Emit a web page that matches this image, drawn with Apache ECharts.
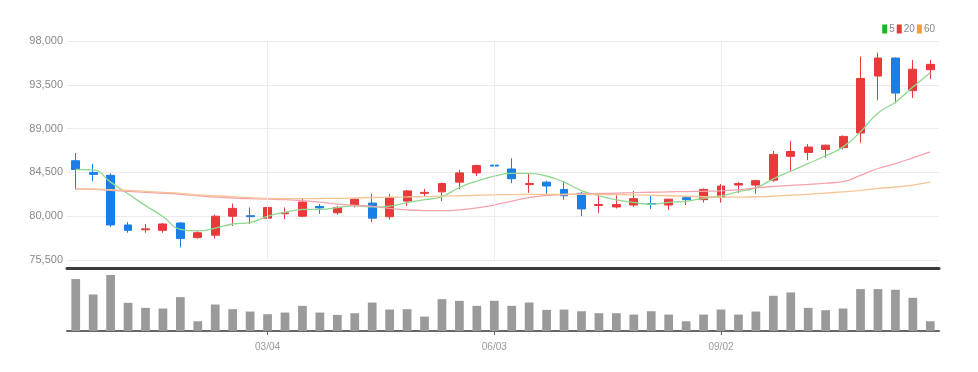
<!DOCTYPE html>
<html>
<head>
<meta charset="utf-8">
<script src="https://cdn.jsdelivr.net/npm/echarts@6/dist/echarts.min.js"></script>
<style>
html,body{margin:0;padding:0;background:#fff;}
#chart{width:978px;height:372px;}
</style>
</head>
<body>
<div id="chart"></div>
<script>
// Weekly categories
const categories = ['12/18','12/25','01/01','01/08','01/15','01/22','01/29','02/05','02/12','02/19',
  '02/26','03/04','03/11','03/18','03/25','04/01','04/08','04/15','04/22','04/29',
  '05/06','05/13','05/20','05/27','06/03','06/10','06/17','06/24','07/01','07/08',
  '07/15','07/22','07/29','08/05','08/12','08/19','08/26','09/02','09/09','09/16',
  '09/23','09/30','10/07','10/14','10/21','10/28','11/04','11/11','11/18','11/25'];
const tickLabels = ['03/04','06/03','09/02'];

const opens = [85700,84500,84200,79100,78600,78550,79300,77800,78050,80000,
  80050,79800,80250,80000,81000,80350,81150,81350,79950,81550,
  82350,82500,83500,84450,85250,84850,83250,83500,82750,82350,
  81100,80950,81150,81300,81150,81900,81700,81950,83200,83200,
  83700,86150,86550,86850,87050,88550,94400,96250,92900,95050];
const closes = [84800,84300,79100,78550,78700,79200,77700,78300,80000,80800,
  79950,80900,80350,81450,80850,80900,81750,79800,81900,82600,
  82450,83350,84450,85200,85150,83850,83350,83100,82100,80750,
  81200,81200,81800,81200,81750,81700,82750,83100,83350,83650,
  86350,86650,87100,87300,88200,94150,96250,92650,95100,95600];
const lows = [82750,83600,78900,78300,78300,78300,76800,77700,77700,79000,
  79200,79050,79700,79900,80250,80150,80900,79400,79650,81050,
  82000,81550,82750,84150,83600,83400,82400,82100,81700,80000,
  80350,80800,80950,80750,80650,81150,81400,81400,82400,82300,
  83550,84600,85750,86000,86850,87550,91900,91600,92150,94100];
const highs = [86500,85400,84400,79400,79200,79300,79400,78450,80150,81300,
  80900,81100,80900,81800,81250,81050,81800,82300,82300,82700,
  82800,83450,84750,85300,85300,85950,84350,83650,83600,82500,
  82100,82150,82600,82100,81800,82000,82850,83300,83500,83750,
  86700,87750,87400,87350,88300,96400,96800,96300,96050,96050];

const ma5 = [84800,84750,83500,82300,81090,79970,78650,78490,78780,79200,
  79350,79990,80400,80690,80700,80890,81060,80950,81040,81390,
  81700,82020,82950,83610,84120,84400,84400,84130,83510,82630,
  82100,81670,81410,81230,81430,81530,81840,82100,82530,82910,
  83840,84620,85420,86210,87120,88680,90600,91710,93270,94750];
const ma20 = [82800,82750,82650,82550,82450,82350,82250,82100,81950,81850,
  81800,81750,81700,81600,81450,81250,81120,81000,80800,80650,
  80580,80570,80650,80850,81150,81550,81900,82120,82230,82300,
  82330,82380,82420,82460,82500,82530,82560,82600,82720,82900,
  83050,83160,83270,83400,83550,84200,84900,85400,86000,86600];
const ma60 = [82800,82780,82720,82650,82550,82450,82350,82200,82100,82000,
  81900,81830,81800,81800,81820,81830,81870,81920,81950,81980,
  82020,82060,82100,82150,82200,82220,82240,82250,82250,82240,
  82230,82220,82200,82150,82100,82050,82000,81950,81950,82000,
  82050,82150,82250,82380,82500,82650,82850,83000,83200,83500];

const volumes = [155,109,167,84,69,67,101,29,79,65,
  58,50,55,75,55,48,53,85,64,65,
  43,95,90,75,90,75,85,63,64,59,
  53,53,49,59,49,29,49,64,49,58,
  105,115,69,62,67,125,125,123,99,29];

const yTicks = {min: 75500, max: 98000, interval: 4500};

const ohlc = opens.map((o, i) => [o, closes[i], lows[i], highs[i]]);
const FONT = '"Liberation Sans Narrow", "Liberation Sans", sans-serif';
const showTick = (idx, val) => tickLabels.indexOf(val) >= 0;

const chart = echarts.init(document.getElementById('chart'), null, {renderer: 'canvas'});
chart.setOption({
  animation: false,
  backgroundColor: '#fff',
  legend: {
    right: 38, top: 19,
    icon: 'rect', itemWidth: 5, itemHeight: 9, itemGap: 2,
    textStyle: {color: '#888', fontSize: 10, fontFamily: FONT, padding: [0, 0, 0, -3]},
    data: [
      {name: '5', itemStyle: {color: '#1fb51f'}},
      {name: '20', itemStyle: {color: '#e83a3a'}},
      {name: '60', itemStyle: {color: '#f0a035'}}
    ]
  },
  grid: [
    {left: 67, right: 39, top: 41, height: 219},
    {left: 67, right: 39, top: 274, height: 57}
  ],
  xAxis: [
    {
      type: 'category', gridIndex: 0, data: categories, boundaryGap: true,
      offset: 8,
      axisLine: {show: true, lineStyle: {color: '#3c3c3c', width: 3}},
      axisTick: {show: false}, axisLabel: {show: false}, splitLine: {show: false}
    },
    {
      type: 'category', gridIndex: 1, data: categories, boundaryGap: true,
      axisLine: {show: true, lineStyle: {color: '#666', width: 2}},
      axisTick: {show: true, alignWithLabel: true, interval: showTick, length: 4, lineStyle: {color: '#666'}},
      axisLabel: {show: true, interval: showTick, color: '#999', fontSize: 10, fontFamily: FONT, margin: 11},
      splitLine: {show: false}
    }
  ],
  yAxis: [
    {
      type: 'value', gridIndex: 0, min: yTicks.min, max: yTicks.max, interval: yTicks.interval,
      axisLine: {show: false}, axisTick: {show: false},
      axisLabel: {color: '#888', fontSize: 11, fontFamily: FONT, margin: 4,
        formatter: v => v.toLocaleString('en-US')},
      splitLine: {show: true, lineStyle: {color: '#ebebeb', width: 1}}
    },
    {
      type: 'value', gridIndex: 1, min: 0, max: 170, show: false,
      splitLine: {show: false}
    }
  ],
  series: [
    {
      name: 'price', type: 'candlestick', xAxisIndex: 0, yAxisIndex: 0,
      data: ohlc, barWidth: '48%',
      itemStyle: {color: '#e8393b', color0: '#1a7ee8', borderColor: '#e8393b', borderColor0: '#1a7ee8', borderWidth: 1},
      markLine: {
        silent: true, symbol: 'none', label: {show: false},
        lineStyle: {color: '#ececec', width: 1, type: 'solid'},
        data: tickLabels.map(t => ({xAxis: t}))
      }
    },
    {
      name: '5', type: 'line', xAxisIndex: 0, yAxisIndex: 0, data: ma5,
      smooth: true, showSymbol: false, symbol: 'none',
      lineStyle: {color: '#8fd88f', width: 1.3}, itemStyle: {color: '#1fb51f'}
    },
    {
      name: '20', type: 'line', xAxisIndex: 0, yAxisIndex: 0, data: ma20,
      smooth: true, showSymbol: false, symbol: 'none',
      lineStyle: {color: '#f5a3aa', width: 1.3}, itemStyle: {color: '#e83a3a'}
    },
    {
      name: '60', type: 'line', xAxisIndex: 0, yAxisIndex: 0, data: ma60,
      smooth: true, showSymbol: false, symbol: 'none',
      lineStyle: {color: '#f6c596', width: 1.3}, itemStyle: {color: '#f0a035'}
    },
    {
      name: 'volume', type: 'bar', xAxisIndex: 1, yAxisIndex: 1, data: volumes,
      barWidth: '50%', itemStyle: {color: '#9a9a9a'}
    }
  ]
});
</script>
</body>
</html>
